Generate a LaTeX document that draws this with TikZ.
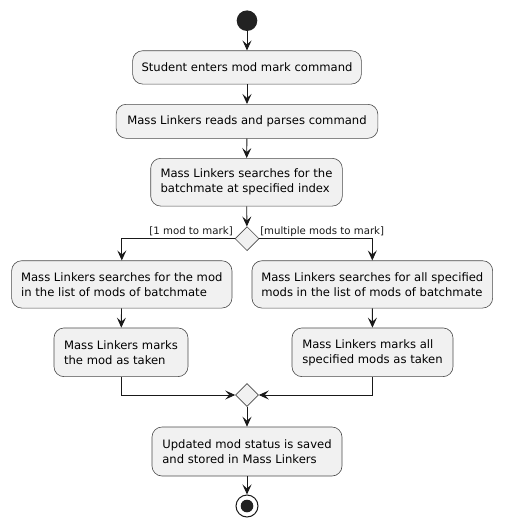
\documentclass[tikz,border=0pt]{standalone}
\usepackage{fontspec}
\setmainfont{DejaVu Sans}
\usetikzlibrary{arrows.meta}
\usetikzlibrary{shapes.geometric}
\definecolor{actfill}{HTML}{F1F1F1}
\definecolor{actline}{HTML}{4A4A4A}
\definecolor{dotfill}{HTML}{222222}
\tikzset{act/.style 2 args={draw=actline, fill=actfill, line width=0.6pt,
  rounded corners=10pt, align=left, inner sep=0pt,
  font=\fontsize{11.6}{15}\selectfont,
  minimum width=#1pt, minimum height=#2pt}}
\tikzset{branch/.style={diamond, aspect=1, draw=actline, fill=actfill,
  line width=0.6pt, inner sep=0pt, minimum size=24pt}}
\tikzset{flow/.style={-{Stealth[length=10pt,width=9pt,inset=4pt]},
  line width=0.9pt, black!90}}
\tikzset{guard/.style={font=\fontsize{10.2}{12}\selectfont, inner sep=0pt}}

\begin{document}
\begin{tikzpicture}[x=1pt, y=-1pt]
      \useasboundingbox (0, 0) rectangle (504, 527);

      \node [circle, fill=dotfill, inner sep=0pt, minimum size=20.6pt] (start) at (247, 20.7) {};
      \node [act={228.7}{33.3}] (enter) at (247, 67.4) {Student enters mod mark command};
      \node [act={261.7}{34}] (parse) at (247, 121.3) {Mass Linkers reads and parses command};
      \node [act={191.6}{47.7}] (findmate) at (246.5, 182.2) {Mass Linkers searches for the\\batchmate at specified index};
      \node [branch] (split) at (247, 238.7) {};

      \node [act={220.3}{47.3}] (findone) at (121.8, 284.4) {Mass Linkers searches for the mod\\in the list of mods of batchmate};
      \node [act={240.7}{47.3}] (findall) at (372.3, 284.4) {Mass Linkers searches for all specified\\mods in the list of mods of batchmate};
      \node [act={134}{48.7}] (markone) at (121, 352.3) {Mass Linkers marks\\the mod as taken};
      \node [act={161}{48.7}] (markall) at (372.5, 352.3) {Mass Linkers marks all\\specified mods as taken};

      \node [branch, minimum size=23pt] (merge) at (247, 395) {};
      \node [act={190}{49}] (save) at (247, 451.5) {Updated mod status is saved\\and stored in Mass Linkers};
      \node [circle, draw=black!90, line width=1pt, fill=white, inner sep=0pt, minimum size=22pt,
        path picture={\fill [dotfill] (path picture bounding box.center) circle (6.3pt);}] (stop) at (247, 506) {};

      \draw [flow] (start) -- (enter);
      \draw [flow] (enter) -- (parse);
      \draw [flow] (parse) -- (findmate);
      \draw [flow] (findmate) -- (split);
      \draw [flow] (split.west) node [guard, anchor=base east, xshift=-1.5pt, yshift=4pt] {[1 mod to mark]} -| (findone);
      \draw [flow] (split.east) node [guard, anchor=base west, xshift=0.5pt, yshift=4pt] {[multiple mods to mark]} -| (findall);
      \draw [flow] (findone) -- (markone);
      \draw [flow] (findall) -- (markall);
      \draw [flow] (markone) |- (merge.west);
      \draw [flow] (markall) |- (merge.east);
      \draw [flow] (merge) -- (save);
      \draw [flow] (save) -- (stop);
    \end{tikzpicture}
\end{document}
